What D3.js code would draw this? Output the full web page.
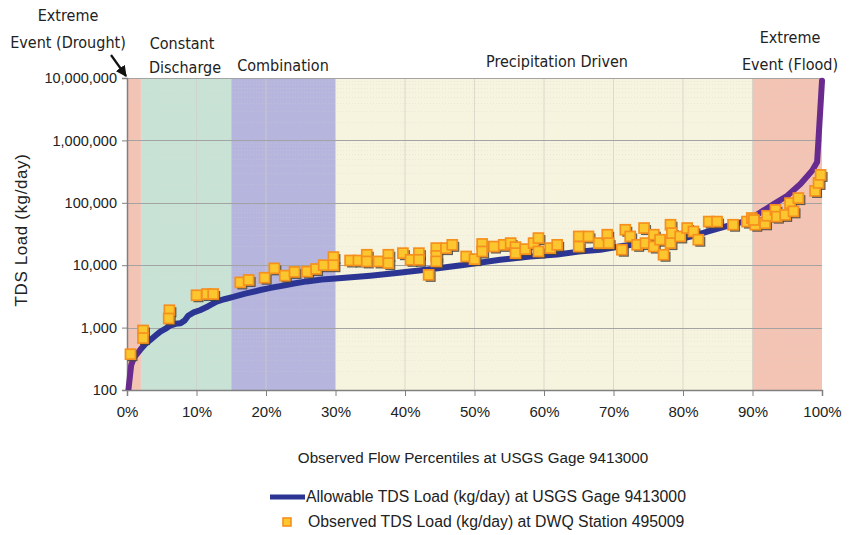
<!DOCTYPE html>
<html>
<head>
<meta charset="utf-8">
<script src="https://cdn.jsdelivr.net/npm/d3@7"></script>
<style>
  html, body { margin: 0; padding: 0; background: #ffffff; }
  svg { display: block; }
  .ann { font-family: "DejaVu Sans Condensed", "DejaVu Sans", sans-serif; font-stretch: condensed; font-size: 16px; fill: #222; }
  .tick text { font-family: "Liberation Sans", Arial, sans-serif; fill: #222; }
  .lbl { font-family: "Liberation Sans", Arial, sans-serif; fill: #222; }
</style>
</head>
<body>
<script>
// ---------------- DATA ----------------
const regionNames = ["Extreme Event (Drought)", "Constant Discharge", "Combination", "Precipitation Driven", "Extreme Event (Flood)"];
const regionStarts = [0, 2, 15, 30, 90];
const regionEnds   = [2, 15, 30, 90, 100];
const regionColors = ["#f3c4b3", "#c8e3d6", "#b6b5de", "#f6f4de", "#f3c4b3"];

const yTickValues = [100, 1000, 10000, 100000, 1000000, 10000000];
const xTickValues = [0, 10, 20, 30, 40, 50, 60, 70, 80, 90, 100];

// Allowable TDS load curve: [flow percentile, kg/day]
const allowablePct = [0.2, 0.6, 1.0, 1.9, 2.6, 3.4, 4.2, 4.8, 5.5, 6.2, 7.0, 7.7, 8.3, 8.8, 9.6, 10.5, 11.7, 12.9, 14.0, 15.3, 17.0, 19.2, 20.5, 22.5, 24.0, 25.9, 28.0, 30.0, 35.0, 38.8, 43.6, 48.4, 53.7, 58.0, 61.9, 65.0, 68.1, 71.5, 76.7, 80.0, 82.0, 83.5, 86.8, 88.7, 90.4, 93.0, 95.0, 96.9, 98.6, 99.3, 100];
const allowableLoad = [100, 250, 330, 440, 540, 640, 760, 860, 950, 1080, 1150, 1170, 1300, 1550, 1750, 1900, 2200, 2600, 2850, 3100, 3500, 4000, 4300, 4700, 5100, 5500, 5900, 6100, 6800, 7500, 8600, 10100, 12200, 13800, 14800, 16500, 17700, 20500, 24000, 27000, 30500, 34500, 44000, 50000, 62000, 95000, 130000, 200000, 330000, 450000, 9000000];

// Observed TDS load: [flow percentile, kg/day]
const observedPct = [0.5, 2.3, 2.3, 6.1, 6.0, 10.0, 11.5, 12.4, 16.3, 17.5, 19.8, 21.2, 22.7, 24.1, 25.9, 27.2, 28.3, 29.7, 29.7,
  32.1, 33.3, 34.5, 34.5, 36.2, 37.6, 37.6, 39.7, 40.8, 42.0, 42.0, 43.4, 44.5, 44.5, 44.5, 45.9, 46.8, 48.8, 50.0, 51.1, 51.1, 52.8,
  54.2, 55.2, 55.9, 55.9, 57.3, 58.5, 59.2, 59.2, 60.9, 61.9, 65.0, 65.0, 66.4, 67.9, 69.1, 69.3, 71.2, 71.7, 72.4, 73.4, 74.4, 74.6,
  75.8, 75.8, 76.7, 77.2, 78.2, 78.2, 78.4, 79.6, 80.6, 81.5, 82.2, 83.7, 84.9, 87.2, 89.2, 89.9, 90.4, 90.2, 91.8, 92.1, 93.3, 93.5,
  94.7, 95.4, 95.9, 96.6, 99.0, 99.5, 99.8];
const observedLoad = [375, 900, 680, 1900, 1400, 3300, 3450, 3450, 5300, 5800, 6300, 8900, 6800, 7800, 7900, 8700, 10000, 13500, 10000,
  11900, 11900, 14700, 11500, 11500, 14700, 10800, 15600, 12200, 15600, 12200, 7000, 18800, 14100, 11500, 18800, 21200, 13800, 12500, 21900, 16600, 19900,
  21200, 22600, 19500, 15600, 18100, 22600, 27200, 16600, 18800, 21200, 28900, 19900, 28900, 22600, 30800, 22600, 17700, 37000, 28900, 21200, 39400, 22600,
  30800, 19900, 25600, 14700, 44500, 22600, 32700, 28900, 39400, 34700, 25600, 50000, 50000, 44500, 50000, 57000, 44500, 53000, 47000, 62000, 77000, 60000,
  64000, 99000, 73000, 119000, 155000, 208000, 280000];

const xTitle = "Observed Flow Percentiles at USGS Gage 9413000";
const yTitle = "TDS Load (kg/day)";
const legendLine = "Allowable TDS Load (kg/day) at USGS Gage 9413000";
const legendPoint = "Observed TDS Load (kg/day) at DWQ Station 495009";

// ---------------- CHART ----------------
const W = 853, H = 535;
const m = { left: 127, right: 31, top: 78, bottom: 145 };
const iw = W - m.left - m.right, ih = H - m.top - m.bottom;

const svg = d3.select("body").append("svg").attr("width", W).attr("height", H);
const g = svg.append("g").attr("transform", `translate(${m.left},${m.top})`);

const x = d3.scaleLinear().domain([0, 100]).range([0, iw]);
const y = d3.scaleLog().domain([100, 10000000]).range([ih, 0]);

// region bands
g.selectAll("rect.band").data(regionStarts).join("rect")
  .attr("class", "band")
  .attr("x", (d) => x(d)).attr("y", 0)
  .attr("width", (d, i) => x(regionEnds[i]) - x(d)).attr("height", ih)
  .attr("fill", (d, i) => regionColors[i]);

// vertical faint gridlines
g.selectAll("line.vg").data(xTickValues.slice(1, -1)).join("line")
  .attr("class", "vg")
  .attr("x1", (d) => x(d)).attr("x2", (d) => x(d))
  .attr("y1", 0).attr("y2", ih)
  .attr("stroke", "#d0d0c6").attr("stroke-width", 1).attr("opacity", 0.7);

// minor horizontal faint gridlines
const minorVals = [];
for (let e = 2; e < 7; e++) for (let k = 2; k <= 9; k++) minorVals.push(k * Math.pow(10, e));
g.selectAll("line.mg").data(minorVals).join("line")
  .attr("class", "mg")
  .attr("x1", 0).attr("x2", iw)
  .attr("y1", (d) => Math.round(y(d)) + 0.5).attr("y2", (d) => Math.round(y(d)) + 0.5)
  .attr("stroke", "#d4d4cc").attr("stroke-width", 1).attr("stroke-dasharray", "1,2").attr("opacity", 0.35);

// major horizontal gridlines
g.selectAll("line.hg").data(yTickValues).join("line")
  .attr("class", "hg")
  .attr("x1", 0).attr("x2", iw)
  .attr("y1", (d) => Math.round(y(d)) + 0.5).attr("y2", (d) => Math.round(y(d)) + 0.5)
  .attr("stroke", "#a3a3a3").attr("stroke-width", 1.2);

// axes
const yAxis = d3.axisLeft(y).tickValues(yTickValues).tickFormat(d3.format(",")).tickSize(5).tickPadding(5);
const yg = g.append("g").call(yAxis);
yg.select(".domain").attr("stroke", "#808080").attr("stroke-width", 1.5);
yg.selectAll(".tick line").attr("stroke", "#808080");
yg.selectAll(".tick text").attr("font-size", 14.5);

const xAxis = d3.axisBottom(x).tickValues(xTickValues).tickFormat((d) => d + "%").tickSize(6).tickPadding(10);
const xg = g.append("g").attr("transform", `translate(0,${ih})`).call(xAxis);
xg.select(".domain").attr("stroke", "#808080").attr("stroke-width", 1.5);
xg.selectAll(".tick line").attr("stroke", "#808080");
xg.selectAll(".tick text").attr("font-size", 15);

// line gradient (purple at extremes, navy in middle)
const defs = svg.append("defs");
const grad = defs.append("linearGradient").attr("id", "lineGrad")
  .attr("gradientUnits", "userSpaceOnUse")
  .attr("x1", x(0)).attr("x2", x(100)).attr("y1", 0).attr("y2", 0);
[[0, "#6a2a8e"], [0.012, "#6a2a8e"], [0.025, "#2c3594"], [0.84, "#2c3594"], [0.9, "#5a2f96"], [1, "#6a2a8e"]]
  .forEach(([o, c]) => grad.append("stop").attr("offset", o).attr("stop-color", c));

const clip = defs.append("clipPath").attr("id", "plotClip");
clip.append("rect").attr("x", -5).attr("y", -5).attr("width", iw + 10).attr("height", ih + 5);

const lineData = allowablePct.map((p, i) => [p, allowableLoad[i]]);
const lineGen = d3.line().x((d) => x(d[0])).y((d) => y(d[1]));
g.append("path").datum(lineData)
  .attr("clip-path", "url(#plotClip)")
  .attr("d", lineGen)
  .attr("fill", "none").attr("stroke", "url(#lineGrad)")
  .attr("stroke-width", 6).attr("stroke-linejoin", "round").attr("stroke-linecap", "round");

// observed points
const obs = observedPct.map((p, i) => [p, observedLoad[i]]);
const S = 10;
g.selectAll("rect.shadow").data(obs).join("rect")
  .attr("class", "shadow")
  .attr("x", (d) => x(d[0]) - S / 2 + 2).attr("y", (d) => y(d[1]) - S / 2 + 2)
  .attr("width", S).attr("height", S)
  .attr("fill", "#44443e").attr("opacity", 0.85);
g.selectAll("rect.pt").data(obs).join("rect")
  .attr("class", "pt")
  .attr("x", (d) => x(d[0]) - S / 2).attr("y", (d) => y(d[1]) - S / 2)
  .attr("width", S).attr("height", S)
  .attr("fill", "#fcc62e").attr("stroke", "#f5901e").attr("stroke-width", 1.7);

// region annotations
const ann = svg.append("g");
const annLines = [
  { t: "Extreme", x: 68, y: 21 },
  { t: "Event (Drought)", x: 68, y: 48 },
  { t: "Constant", x: 182, y: 49 },
  { t: "Discharge", x: 185, y: 73 },
  { t: "Combination", x: 283, y: 71 },
  { t: "Precipitation Driven", x: 557, y: 67 },
  { t: "Extreme", x: 790, y: 43 },
  { t: "Event (Flood)", x: 790, y: 70 }
];
ann.selectAll("text").data(annLines).join("text")
  .attr("class", "ann")
  .attr("x", (d) => d.x).attr("y", (d) => d.y)
  .attr("text-anchor", "middle").text((d) => d.t);

// drought arrow
defs.append("marker").attr("id", "arrowHead")
  .attr("viewBox", "0 0 10 10").attr("refX", 9).attr("refY", 5)
  .attr("markerWidth", 5).attr("markerHeight", 5).attr("orient", "auto")
  .append("path").attr("d", "M0,0 L10,5 L0,10 Z").attr("fill", "#111");
svg.append("line")
  .attr("x1", 111).attr("y1", 55).attr("x2", x(0) + m.left - 1).attr("y2", m.top - 2)
  .attr("stroke", "#111").attr("stroke-width", 2.2).attr("marker-end", "url(#arrowHead)");

// axis titles
svg.append("text").attr("class", "lbl")
  .attr("transform", `translate(27,${m.top + ih / 2 - 4}) rotate(-90)`)
  .attr("text-anchor", "middle").attr("font-size", 17).attr("letter-spacing", 0.6).text(yTitle);
svg.append("text").attr("class", "lbl")
  .attr("x", 473).attr("y", 463).attr("text-anchor", "middle").attr("font-size", 15.2).text(xTitle);

// legend
const lg = svg.append("g");
lg.append("line").attr("x1", 270).attr("x2", 305).attr("y1", 497).attr("y2", 497)
  .attr("stroke", "#2c3594").attr("stroke-width", 5);
lg.append("text").attr("class", "lbl").attr("x", 306).attr("y", 502).attr("font-size", 15.8).text(legendLine);
lg.append("rect").attr("x", 283).attr("y", 518).attr("width", 8).attr("height", 8)
  .attr("fill", "#fcc62e").attr("stroke", "#f5901e").attr("stroke-width", 1.6);
lg.append("text").attr("class", "lbl").attr("x", 308).attr("y", 527).attr("font-size", 15.8).text(legendPoint);
</script>
</body>
</html>
